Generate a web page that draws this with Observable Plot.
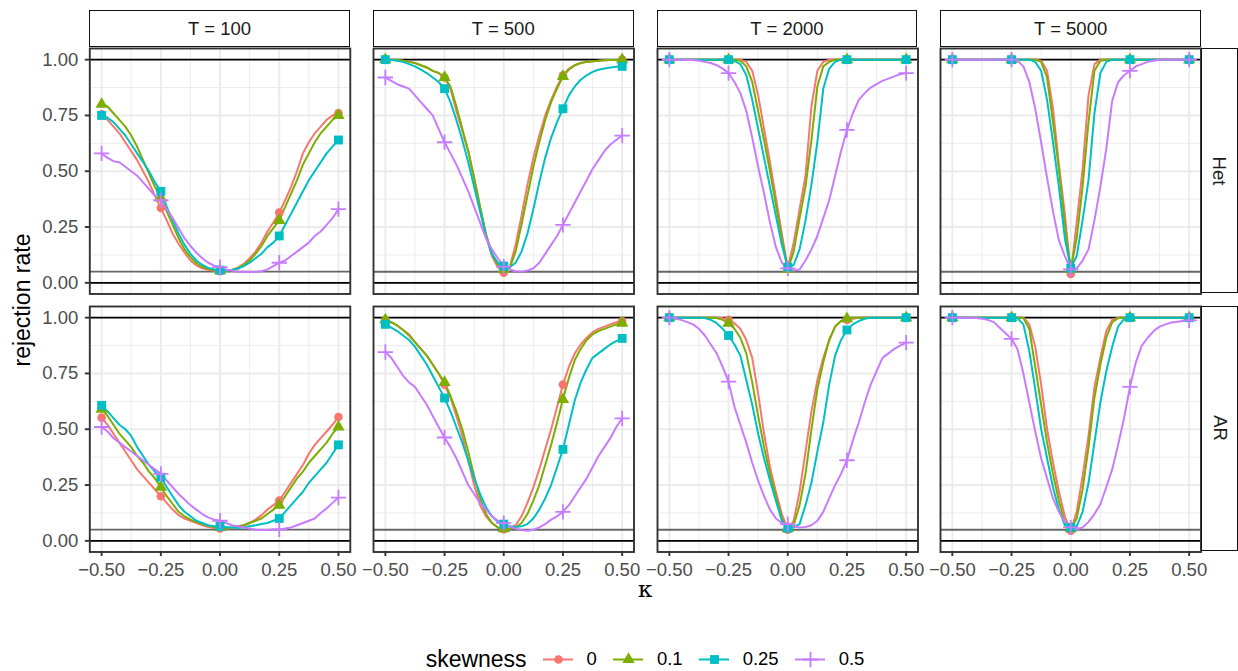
<!DOCTYPE html>
<html>
<head>
<meta charset="utf-8">
<script src="https://cdn.jsdelivr.net/npm/d3@7"></script>
<script src="https://cdn.jsdelivr.net/npm/@observablehq/plot@0.6"></script>
<style>
  body { margin: 0; background: #fff; }
  #chart { position: relative; width: 1238px; height: 671px; overflow: hidden; font-family: "Liberation Sans", Arial, Helvetica, sans-serif; background: #fff; }
  #chart svg { position: absolute; }
  .strip { position: absolute; box-sizing: border-box; border: 1.9px solid #111; background: #fff; color: #1a1a1a; font-size: 18.5px; display: flex; align-items: center; justify-content: center; }
  .vtext { transform: rotate(90deg); white-space: nowrap; }
  .title { position: absolute; color: #000; font-size: 23px; white-space: nowrap; }
  #legend { position: absolute; left: 89px; width: 1112px; top: 640px; height: 38px; display: flex; align-items: center; justify-content: center; }
  #legend .lt { font-size: 23px; color: #000; }
  #legend .key { margin-left: 16px; width: 30px; height: 30px; position: relative; }
  #legend .key svg { position: static; }
  #legend .lab { margin-left: 14px; font-size: 18.5px; color: #000; }
</style>
</head>
<body>
<div id="chart"></div>
<script>
// ---------------- data ----------------
const kappa = [-0.5,-0.475,-0.45,-0.425,-0.4,-0.375,-0.35,-0.325,-0.3,-0.275,-0.25,
  -0.225,-0.2,-0.175,-0.15,-0.125,-0.1,-0.075,-0.05,-0.025,0,
  0.025,0.05,0.075,0.1,0.125,0.15,0.175,0.2,0.225,0.25,
  0.275,0.3,0.325,0.35,0.375,0.4,0.425,0.45,0.475,0.5];

const skewLevels = ["0", "0.1", "0.25", "0.5"];
const Ts = [100, 500, 2000, 5000];
const models = ["Het", "AR"];
const xTicks = [-0.5, -0.25, 0, 0.25, 0.5];
const xMinor = [-0.375, -0.125, 0.125, 0.375];
const yTicks = [0, 0.25, 0.5, 0.75, 1];
const yMinor = [0.125, 0.375, 0.625, 0.875];
const blackRefs = [0, 1];
const greyRefs = [0.05];

// Het
const het100_s0 = [0.755,0.73,0.70,0.67,0.63,0.59,0.55,0.50,0.45,0.39,0.335, 0.28,0.22,0.175,0.135,0.10,0.078,0.065,0.058,0.054,0.052, 0.054,0.058,0.068,0.085,0.11,0.14,0.18,0.23,0.27,0.315, 0.37,0.43,0.50,0.58,0.63,0.67,0.70,0.73,0.75,0.76];
const het100_s1 = [0.80,0.79,0.76,0.73,0.70,0.66,0.61,0.55,0.49,0.43,0.38, 0.32,0.26,0.20,0.15,0.115,0.088,0.072,0.062,0.057,0.055, 0.055,0.058,0.065,0.08,0.10,0.13,0.165,0.21,0.245,0.28, 0.34,0.40,0.46,0.53,0.58,0.63,0.67,0.70,0.73,0.75];
const het100_s2 = [0.75,0.74,0.72,0.69,0.66,0.62,0.58,0.54,0.50,0.45,0.41, 0.34,0.28,0.22,0.17,0.13,0.10,0.08,0.067,0.06,0.057, 0.055,0.057,0.063,0.075,0.09,0.11,0.13,0.16,0.18,0.21, 0.26,0.31,0.36,0.41,0.46,0.50,0.54,0.58,0.61,0.64];
const het100_s3 = [0.58,0.56,0.545,0.54,0.52,0.50,0.48,0.45,0.42,0.39,0.37, 0.33,0.29,0.245,0.20,0.165,0.135,0.11,0.09,0.077,0.07, 0.06,0.055,0.05,0.05,0.048,0.048,0.052,0.06,0.075,0.09, 0.10,0.12,0.14,0.16,0.18,0.21,0.23,0.26,0.29,0.33];

const het500_s0 = [1.0,1.0,0.998,0.995,0.99,0.985,0.975,0.965,0.95,0.94,0.92, 0.87,0.77,0.68,0.59,0.47,0.34,0.21,0.12,0.07,0.045, 0.07,0.17,0.30,0.44,0.56,0.66,0.75,0.82,0.88,0.93, 0.96,0.975,0.985,0.99,0.993,0.995,0.997,0.998,0.999,1.0];
const het500_s1 = [1.0,1.0,0.998,0.995,0.99,0.985,0.975,0.965,0.95,0.94,0.92, 0.88,0.79,0.69,0.59,0.47,0.34,0.22,0.13,0.08,0.06, 0.065,0.14,0.26,0.39,0.52,0.63,0.73,0.81,0.87,0.925, 0.955,0.975,0.985,0.99,0.993,0.995,0.997,0.998,0.999,1.0];
const het500_s2 = [1.0,0.998,0.995,0.99,0.98,0.97,0.955,0.94,0.92,0.90,0.87, 0.81,0.73,0.64,0.54,0.43,0.32,0.21,0.13,0.09,0.075, 0.07,0.09,0.14,0.22,0.33,0.45,0.56,0.65,0.72,0.78, 0.84,0.88,0.91,0.93,0.945,0.955,0.96,0.965,0.968,0.97];
const het500_s3 = [0.92,0.905,0.89,0.88,0.87,0.84,0.81,0.78,0.75,0.69,0.63, 0.58,0.53,0.47,0.41,0.34,0.27,0.20,0.15,0.11,0.073, 0.06,0.052,0.05,0.055,0.065,0.09,0.13,0.17,0.21,0.26, 0.31,0.36,0.41,0.46,0.51,0.55,0.59,0.62,0.64,0.66];

const het2000_s0 = [1,1,1,1,1,1,1,1,1,1,1, 1,1,0.99,0.95,0.84,0.69,0.54,0.38,0.22,0.065, 0.18,0.33,0.48,0.79,0.95,0.99,1,1,1,1, 1,1,1,1,1,1,1,1,1,1];
const het2000_s1 = [1,1,1,1,1,1,1,1,1,1,1, 1,0.995,0.97,0.90,0.77,0.64,0.50,0.35,0.20,0.06, 0.14,0.29,0.43,0.64,0.88,0.97,0.99,1,1,1, 1,1,1,1,1,1,1,1,1,1];
const het2000_s2 = [1,1,1,1,1,1,1,1,1,1,1, 0.995,0.98,0.93,0.82,0.69,0.56,0.43,0.30,0.17,0.07, 0.08,0.15,0.28,0.44,0.63,0.87,0.96,0.99,1,1, 1,1,1,1,1,1,1,1,1,1];
const het2000_s3 = [1,1,1,0.999,0.998,0.995,0.99,0.985,0.975,0.96,0.94, 0.90,0.85,0.77,0.65,0.52,0.40,0.27,0.16,0.09,0.065, 0.055,0.06,0.10,0.15,0.21,0.29,0.37,0.48,0.59,0.685, 0.76,0.82,0.85,0.875,0.89,0.905,0.915,0.925,0.935,0.94];

const het5000_s0 = [1,1,1,1,1,1,1,1,1,1,1, 1,1,1,1,0.995,0.95,0.78,0.53,0.31,0.04, 0.27,0.51,0.84,0.98,1,1,1,1,1,1, 1,1,1,1,1,1,1,1,1,1];
const het5000_s1 = [1,1,1,1,1,1,1,1,1,1,1, 1,1,1,1,0.99,0.92,0.72,0.51,0.26,0.06, 0.20,0.43,0.72,0.95,0.995,1,1,1,1,1, 1,1,1,1,1,1,1,1,1,1];
const het5000_s2 = [1,1,1,1,1,1,1,1,1,1,1, 1,1,1,0.99,0.95,0.82,0.63,0.43,0.20,0.065, 0.12,0.28,0.46,0.76,0.94,0.99,1,1,1,1, 1,1,1,1,1,1,1,1,1,1];
const het5000_s3 = [1,1,1,1,1,1,1,1,1,1,1, 0.995,0.97,0.90,0.78,0.63,0.47,0.32,0.19,0.12,0.06, 0.065,0.10,0.15,0.28,0.43,0.60,0.816,0.90,0.93,0.95, 0.97,0.98,0.99,0.995,1,1,1,1,1,1];

// AR
const ar100_s0 = [0.552,0.52,0.48,0.44,0.40,0.36,0.32,0.29,0.26,0.23,0.20, 0.17,0.14,0.115,0.10,0.09,0.08,0.07,0.062,0.057,0.055, 0.055,0.058,0.063,0.07,0.08,0.095,0.115,0.14,0.16,0.18, 0.22,0.26,0.30,0.34,0.39,0.43,0.46,0.49,0.52,0.555];
const ar100_s1 = [0.59,0.56,0.52,0.48,0.45,0.42,0.38,0.35,0.31,0.28,0.24, 0.20,0.165,0.13,0.11,0.095,0.085,0.075,0.068,0.062,0.06, 0.058,0.06,0.065,0.07,0.08,0.09,0.10,0.12,0.14,0.16, 0.20,0.24,0.28,0.31,0.35,0.38,0.41,0.44,0.48,0.51];
const ar100_s2 = [0.607,0.58,0.55,0.52,0.50,0.47,0.42,0.38,0.34,0.31,0.285, 0.24,0.20,0.16,0.13,0.11,0.09,0.08,0.07,0.065,0.065, 0.062,0.06,0.058,0.06,0.065,0.07,0.075,0.08,0.09,0.10, 0.13,0.16,0.19,0.22,0.26,0.29,0.32,0.35,0.39,0.43];
const ar100_s3 = [0.51,0.49,0.46,0.44,0.42,0.40,0.38,0.36,0.34,0.32,0.30, 0.27,0.24,0.21,0.185,0.16,0.14,0.12,0.105,0.095,0.09, 0.08,0.07,0.065,0.06,0.055,0.05,0.048,0.048,0.05,0.051, 0.055,0.06,0.07,0.08,0.09,0.10,0.125,0.145,0.17,0.194];

const ar500_s0 = [0.99,0.98,0.965,0.945,0.925,0.89,0.86,0.83,0.79,0.75,0.70, 0.64,0.56,0.47,0.36,0.25,0.16,0.11,0.08,0.06,0.052, 0.055,0.07,0.11,0.17,0.24,0.32,0.41,0.50,0.60,0.70, 0.78,0.84,0.88,0.91,0.935,0.95,0.96,0.97,0.98,0.985];
const ar500_s1 = [0.99,0.98,0.965,0.945,0.92,0.89,0.86,0.83,0.79,0.75,0.71, 0.65,0.58,0.50,0.40,0.29,0.19,0.12,0.08,0.06,0.055, 0.055,0.06,0.08,0.12,0.18,0.25,0.34,0.43,0.53,0.634, 0.73,0.81,0.86,0.90,0.925,0.94,0.95,0.96,0.97,0.975];
const ar500_s2 = [0.97,0.955,0.94,0.92,0.90,0.87,0.83,0.79,0.74,0.69,0.64, 0.58,0.51,0.44,0.36,0.28,0.21,0.15,0.11,0.085,0.075, 0.065,0.062,0.065,0.075,0.10,0.14,0.19,0.25,0.33,0.41, 0.52,0.63,0.71,0.77,0.82,0.84,0.86,0.88,0.895,0.907];
const ar500_s3 = [0.846,0.82,0.78,0.74,0.71,0.69,0.65,0.61,0.56,0.51,0.463, 0.42,0.37,0.31,0.25,0.21,0.17,0.14,0.11,0.09,0.079, 0.065,0.055,0.048,0.045,0.05,0.06,0.075,0.095,0.11,0.13, 0.16,0.20,0.24,0.28,0.33,0.38,0.42,0.46,0.51,0.549];

const ar2000_s0 = [1,1,1,1,1,1,1,1,1,0.998,0.99, 0.975,0.95,0.90,0.82,0.66,0.48,0.33,0.22,0.12,0.05, 0.09,0.22,0.40,0.58,0.72,0.82,0.90,0.96,0.985,0.99, 0.995,1,1,1,1,1,1,1,1,1];
const ar2000_s1 = [1,1,1,1,1,1,1,1,0.998,0.99,0.975, 0.95,0.91,0.84,0.71,0.56,0.42,0.30,0.20,0.10,0.055, 0.07,0.16,0.30,0.50,0.68,0.80,0.90,0.96,0.985,0.995, 1,1,1,1,1,1,1,1,1,1];
const ar2000_s2 = [1,1,1,1,1,1,0.998,0.99,0.975,0.95,0.92, 0.88,0.83,0.72,0.61,0.48,0.37,0.27,0.18,0.09,0.057, 0.06,0.075,0.16,0.26,0.40,0.53,0.70,0.83,0.90,0.945, 0.97,0.985,0.995,1,1,1,1,1,1,1];
const ar2000_s3 = [1.0,0.995,0.99,0.98,0.97,0.95,0.92,0.88,0.84,0.78,0.713, 0.60,0.52,0.44,0.35,0.27,0.20,0.14,0.10,0.08,0.075, 0.065,0.06,0.062,0.07,0.09,0.13,0.19,0.25,0.30,0.361, 0.45,0.53,0.62,0.70,0.76,0.82,0.84,0.86,0.875,0.888];

const ar5000_s0 = [1,1,1,1,1,1,1,1,1,1,1, 1,1,0.97,0.87,0.70,0.50,0.35,0.22,0.11,0.045, 0.13,0.29,0.47,0.69,0.82,0.94,0.99,1,1,1, 1,1,1,1,1,1,1,1,1,1];
const ar5000_s1 = [1,1,1,1,1,1,1,1,1,1,1, 1,0.998,0.95,0.78,0.61,0.44,0.30,0.18,0.08,0.055, 0.10,0.23,0.42,0.64,0.79,0.91,0.98,0.998,1,1, 1,1,1,1,1,1,1,1,1,1];
const ar5000_s2 = [1,1,1,1,1,1,1,1,1,1,1, 0.998,0.97,0.85,0.68,0.50,0.37,0.24,0.14,0.07,0.06, 0.065,0.13,0.26,0.44,0.62,0.76,0.87,0.96,0.995,1, 1,1,1,1,1,1,1,1,1,1];
const ar5000_s3 = [1,1,1,0.999,0.998,0.995,0.99,0.98,0.955,0.93,0.905, 0.86,0.75,0.62,0.49,0.37,0.28,0.19,0.13,0.085,0.06, 0.052,0.06,0.085,0.12,0.164,0.24,0.32,0.43,0.55,0.69, 0.80,0.875,0.91,0.94,0.96,0.97,0.978,0.982,0.985,0.988];

// ---------------- styling ----------------
const colors = ["#F8766D", "#7CAE00", "#00BFC4", "#C77CFF"];
const symbols = ["circle", "triangle", "square", "plus"];
const symbolR = [4.3, 4.6, 5.0, 5.0];
const FONT = '"Liberation Sans", Arial, Helvetica, sans-serif';

const lookup = {
  Het: {100: [het100_s0, het100_s1, het100_s2, het100_s3], 500: [het500_s0, het500_s1, het500_s2, het500_s3],
        2000: [het2000_s0, het2000_s1, het2000_s2, het2000_s3], 5000: [het5000_s0, het5000_s1, het5000_s2, het5000_s3]},
  AR: {100: [ar100_s0, ar100_s1, ar100_s2, ar100_s3], 500: [ar500_s0, ar500_s1, ar500_s2, ar500_s3],
       2000: [ar2000_s0, ar2000_s1, ar2000_s2, ar2000_s3], 5000: [ar5000_s0, ar5000_s1, ar5000_s2, ar5000_s3]}
};

// geometry
const PX0 = 89.3, PSTEP = 283.7, PW = 260.5, PH = 245.5;
const rowTop = [47.8, 305.5];
const markerKappa = new Set(xTicks);

function dotOpts(s) {
  const base = {x: "k", y: "v", symbol: symbols[s], r: symbolR[s]};
  if (symbols[s] === "plus") return {...base, fill: "none", stroke: colors[s], strokeWidth: 1.8};
  return {...base, fill: colors[s], stroke: "none"};
}

function makePanel(r, c) {
  const arrs = lookup[models[r]][Ts[c]];
  const rows = [];
  arrs.forEach((vals, s) => vals.forEach((v, i) => rows.push({k: kappa[i], v, s})));
  const mL = c === 0 ? PX0 : 0;
  const mB = r === 1 ? 60 : 0;
  const marks = [
    Plot.ruleX(xMinor, {stroke: "#ebebeb", strokeWidth: 0.95}),
    Plot.ruleY(yMinor, {stroke: "#ebebeb", strokeWidth: 0.95}),
    Plot.ruleX(xTicks, {stroke: "#ebebeb", strokeWidth: 1.9}),
    Plot.ruleY(yTicks, {stroke: "#ebebeb", strokeWidth: 1.9}),
    Plot.ruleY(greyRefs, {stroke: "#666666", strokeWidth: 1.9}),
    Plot.ruleY(blackRefs, {stroke: "#000000", strokeWidth: 1.9})
  ];
  for (let s = 0; s < 4; s++) {
    marks.push(Plot.line(rows.filter(d => d.s === s), {x: "k", y: "v", stroke: colors[s], strokeWidth: 2}));
  }
  for (let s = 0; s < 4; s++) {
    marks.push(Plot.dot(rows.filter(d => d.s === s && markerKappa.has(d.k)), dotOpts(s)));
  }
  marks.push(Plot.frame({stroke: "#333333", strokeWidth: 1.9}));
  if (c === 0) {
    marks.push(Plot.axisY(yTicks, {tickSize: 4.5, tickPadding: 7, tickFormat: d3.format(".2f"),
      stroke: "#333333", strokeWidth: 1.9, fill: "#4d4d4d", fontSize: 18.5, label: null}));
  }
  if (r === 1) {
    marks.push(Plot.axisX(xTicks, {tickSize: 4.5, tickPadding: 6, tickFormat: d3.format(".2f"),
      stroke: "#333333", strokeWidth: 1.9, fill: "#4d4d4d", fontSize: 18.5, label: null}));
  }
  const svg = Plot.plot({
    width: PW + mL, height: PH + mB,
    marginLeft: mL, marginRight: 0, marginTop: 0, marginBottom: mB,
    x: {domain: [-0.55, 0.55], axis: r === 1 ? undefined : null},
    y: {domain: [-0.05, 1.05], axis: c === 0 ? undefined : null},
    style: {fontFamily: FONT, fontSize: "18.5px", background: "transparent", overflow: "visible"},
    marks
  });
  svg.style.left = (PX0 + c * PSTEP - mL) + "px";
  svg.style.top = rowTop[r] + "px";
  return svg;
}

const chart = document.getElementById("chart");
for (let r = 0; r < 2; r++) for (let c = 0; c < 4; c++) chart.appendChild(makePanel(r, c));

// strips
Ts.forEach((T, c) => {
  const d = document.createElement("div");
  d.className = "strip";
  d.style.left = (PX0 + c * PSTEP) + "px";
  d.style.top = "10.3px";
  d.style.width = PW + "px";
  d.style.height = "36.5px";
  d.textContent = "T = " + T;
  chart.appendChild(d);
});
models.forEach((m, r) => {
  const d = document.createElement("div");
  d.className = "strip";
  d.style.left = (PX0 + 3 * PSTEP + PW + 0.5) + "px";
  d.style.top = rowTop[r] + "px";
  d.style.width = "36.5px";
  d.style.height = PH + "px";
  const t = document.createElement("span");
  t.className = "vtext";
  t.textContent = m;
  d.appendChild(t);
  chart.appendChild(d);
});

// axis titles
const yt = document.createElement("div");
yt.className = "title";
yt.textContent = "rejection rate";
yt.style.left = "22px"; yt.style.top = "299.5px";
yt.style.transform = "translate(-50%,-50%) rotate(-90deg)";
chart.appendChild(yt);

const xt = document.createElement("div");
xt.className = "title";
xt.textContent = "κ";
xt.style.fontFamily = '"DejaVu Serif", "Liberation Serif", serif';
xt.style.left = (PX0 + (3 * PSTEP + PW) / 2) + "px"; xt.style.top = "589px";
xt.style.transform = "translate(-50%,-50%)";
chart.appendChild(xt);

// legend
const legend = document.createElement("div");
legend.id = "legend";
const lt = document.createElement("span");
lt.className = "lt"; lt.textContent = "skewness";
legend.appendChild(lt);
skewLevels.forEach((lab, s) => {
  const key = document.createElement("div");
  key.className = "key";
  const keyData = [{k: 0.5, v: 0.5}];
  const svg = Plot.plot({
    width: 30, height: 30, margin: 0,
    x: {domain: [0, 1], axis: null}, y: {domain: [0, 1], axis: null},
    style: {background: "transparent", overflow: "visible"},
    marks: [
      Plot.ruleY(keyData, {y: "v", stroke: colors[s], strokeWidth: 2}),
      Plot.dot(keyData, dotOpts(s))
    ]
  });
  key.appendChild(svg);
  legend.appendChild(key);
  const l = document.createElement("span");
  l.className = "lab"; l.textContent = lab;
  legend.appendChild(l);
});
chart.appendChild(legend);
</script>
</body>
</html>
